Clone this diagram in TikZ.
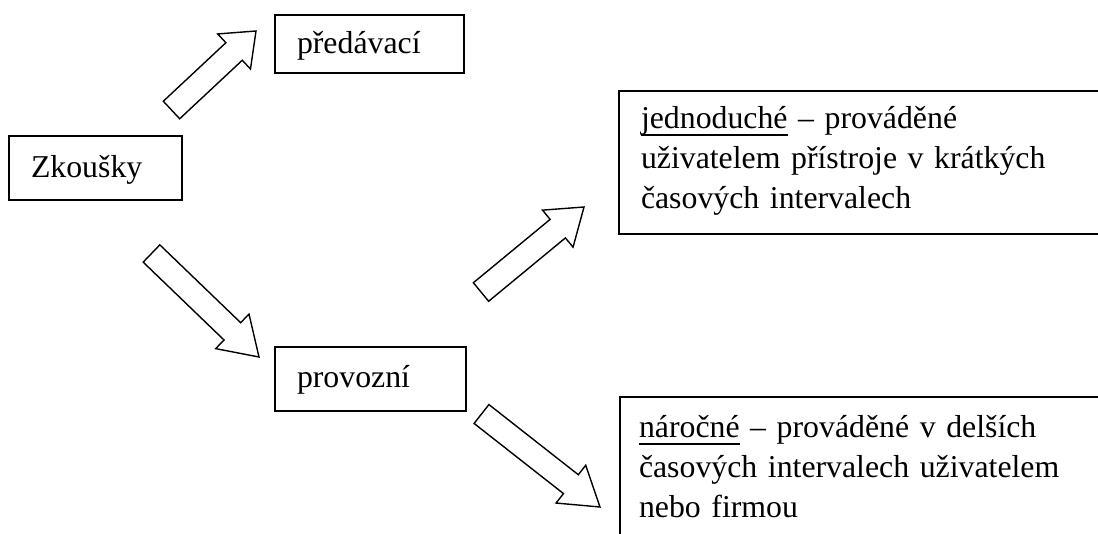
\documentclass[tikz,border=0pt]{standalone}
\usepackage{fontspec}
\setmainfont{Liberation Serif}
\newcommand\myul[1]{\setbox0\hbox{#1}\rlap{\rule[-7.5pt]{\wd0}{1.5pt}}\box0\relax}
\usetikzlibrary{calc}
\tikzset{
  box/.style={draw, line width=1.6pt, anchor=north west, inner sep=0pt, outer sep=0pt},
  txt/.style={anchor=base west, inner sep=0pt, outer sep=0pt, align=left,
    font=\fontsize{31.8}{40}\selectfont},
  blockarrowstyle/.style={draw, line width=1.4pt, fill=white, line join=miter},
}
\newcommand\blockarrow[3]{% #1 tail, #2 tip, #3 head length
  \coordinate (#1h) at ($(#2)!#3!(#1)$);
  \draw[blockarrowstyle]
    ($(#1)!12pt!90:(#2)$) -- ($(#1h)!12pt!90:(#2)$) -- ($(#1h)!24pt!90:(#2)$)
    -- (#2) -- ($(#1h)!24pt!-90:(#2)$) -- ($(#1h)!12pt!-90:(#2)$)
    -- ($(#1)!12pt!-90:(#2)$) -- cycle;
}
\begin{document}
\begin{tikzpicture}[x=1pt, y=-1pt]
\useasboundingbox (0,0) rectangle (1098,533);
\clip (0,0) rectangle (1098,533);
% boxes
\node[box, minimum width=173pt, minimum height=64pt] (zk) at (9,136) {};
\node[box, minimum width=189pt, minimum height=58pt] (pr) at (275,15) {};
\node[box, minimum width=191pt, minimum height=64pt] (po) at (275,347) {};
\node[box, minimum width=500pt, minimum height=143pt] (je) at (619,91) {};
\node[box, minimum width=500pt, minimum height=150pt] (na) at (620,397) {};
% texts
\node[txt] (tzk) at (31,177) {Zkoušky};
\node[txt] (tpr) at (297,53) {předávací};
\node[txt] (tpo) at (297,387) {provozní};
\node[txt, text width=460pt] (tje) at (641,128) {\myul{jednoduché} – prováděné\\uživatelem přístroje v krátkých\\časových intervalech};
\node[txt, text width=460pt] (tna) at (639,437) {\myul{náročné} – prováděné v delších\\časových intervalech uživatelem\\nebo firmou};
% arrows
\coordinate (a1s) at (171.5,110); \coordinate (a1e) at (256,31);
\coordinate (a2s) at (151.5,253.5); \coordinate (a2e) at (259,357);
\coordinate (a3s) at (481,292); \coordinate (a3e) at (584,207);
\coordinate (a4s) at (481.5,414); \coordinate (a4e) at (600,507);
\blockarrow{a1s}{a1e}{30pt}
\blockarrow{a2s}{a2e}{37pt}
\blockarrow{a3s}{a3e}{34pt}
\blockarrow{a4s}{a4e}{37pt}
\end{tikzpicture}
\end{document}
